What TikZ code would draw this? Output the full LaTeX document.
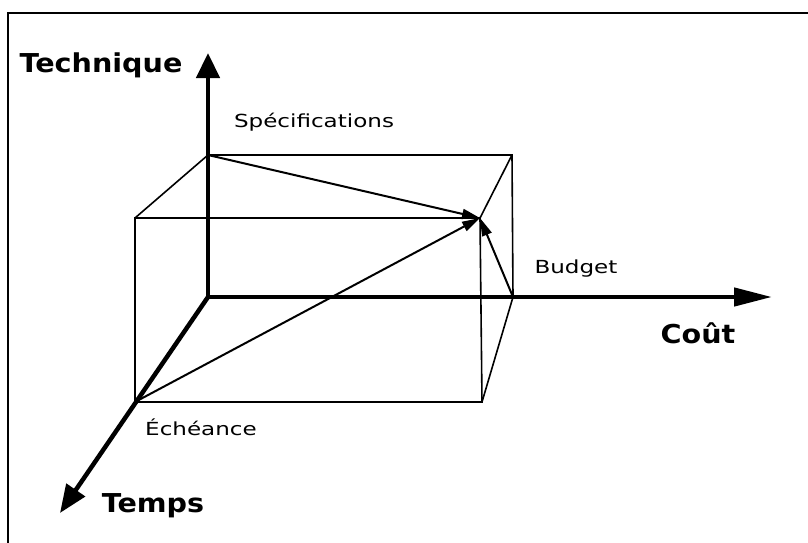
\documentclass[tikz,border=0pt]{standalone}
\usepackage{fontspec}
\usetikzlibrary{arrows.meta}
\newfontfamily\axisfont[FakeStretch=1.1]{DejaVu Sans}
\newfontfamily\labelfont[FakeStretch=1.28]{DejaVu Sans}

\begin{document}
\begin{tikzpicture}[x=1pt, y=-1pt,
  axis/.style={line width=4.5pt},
  edge/.style={line width=1.6pt},
  vec/.style={line width=2pt, -{Triangle[length=18pt,width=10pt]}},
  axislabel/.style={anchor=base, inner sep=0pt, font=\axisfont\bfseries\fontsize{26}{30}\selectfont},
  vlabel/.style={anchor=base, inner sep=0pt, font=\labelfont\fontsize{18}{22}\selectfont}]
\useasboundingbox (0,0) rectangle (808,543);
% Cadre
\draw[line width=2pt] (8,543) -- (8,13) -- (808,13);
% Sommets du pave
\coordinate (O) at (208,297);
\coordinate (btl) at (208,155);
\coordinate (btr) at (512,155);
\coordinate (bbr) at (513,297);
\coordinate (ftl) at (135,218);
\coordinate (ftr) at (480,218);
\coordinate (fbl) at (135,402);
\coordinate (fbr) at (482,402);
% Bouts des axes
\coordinate (tech) at (208,53);
\coordinate (cout) at (772,297);
\coordinate (temps) at (60,513);
% Aretes
\draw[edge] (btl) -- (btr) -- (bbr);
\draw[edge] (btl) -- (ftl);
\draw[edge] (btr) -- (ftr);
\draw[edge] (bbr) -- (fbr);
\draw[edge] (ftl) -- (ftr) -- (fbr) -- (fbl) -- cycle;
% Contraintes
\draw[vec] (btl) -- (ftr);
\draw[vec] (fbl) -- (ftr);
\draw[vec] (bbr) -- (ftr);
% Axes
\draw[axis, -{Triangle[length=25pt,width=23pt]}] (O) -- (tech);
\draw[axis, -{Triangle[length=38pt,width=18pt]}] (O) -- (cout);
\draw[axis, -{Triangle[length=28pt,width=22pt]}] (O) -- (temps);
% Textes
\node[axislabel] (technique) at (101,72) {Technique};
\node[axislabel] (cout-lbl) at (698,343) {Coût};
\node[axislabel] (temps-lbl) at (153,512) {Temps};
\node[vlabel] (specs) at (314,127) {Spécifications};
\node[vlabel] (budget) at (576,273) {Budget};
\node[vlabel] (echeance) at (201,435) {Échéance};
\end{tikzpicture}
\end{document}
